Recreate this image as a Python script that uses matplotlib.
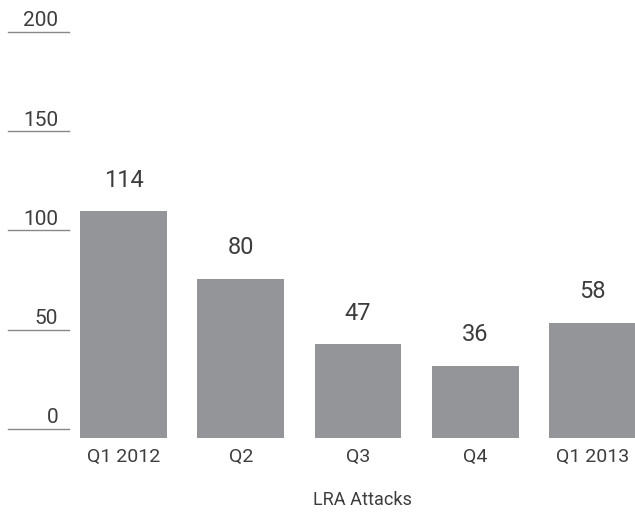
import matplotlib
matplotlib.use("Agg")
import matplotlib.pyplot as plt
import matplotlib.transforms as mtransforms

quarters = ["Q1 2012", "Q2", "Q3", "Q4", "Q1 2013"]
attacks = [114, 80, 47, 36, 58]
yticks = [0, 50, 100, 150, 200]
xlabel = "LRA Attacks"

plt.rcParams["font.family"] = ["Roboto", "DejaVu Sans"]
bar_color = "#939598"
text_color = "#3d3d3d"

fig = plt.figure(figsize=(6.35, 5.12), dpi=100)
ax = fig.add_axes([0, 0.145, 1, 0.855])

x = range(len(quarters))
ax.bar(x, attacks, width=0.74, color=bar_color)
ax.set_xlim(-1.053, 4.362)
ax.set_ylim(0, 220.5)

for xi, v in zip(x, attacks):
    ax.text(xi, v + 10, str(v), ha="center", va="bottom", fontsize=17, color=text_color)

# left-side tick labels with underlines
blend = mtransforms.blended_transform_factory(ax.transAxes, ax.transData)
for t in yticks:
    y = t + 4.4
    ax.plot([8 / 635, 69 / 635], [y, y], transform=blend, color="#888888", lw=1, clip_on=False)
    ax.text(58 / 635, y + 0.8, str(t), transform=blend, ha="right", va="bottom",
            fontsize=15, color=text_color)

for xi, q in zip(x, quarters):
    ax.text(xi, -5, q, ha="center", va="top", fontsize=14, color=text_color)

fig.text(362 / 635, 1 - 500 / 512, xlabel, ha="center", va="center", fontsize=13,
         color=text_color)

ax.axis("off")
fig.savefig("out.png", dpi=100, facecolor="white")
